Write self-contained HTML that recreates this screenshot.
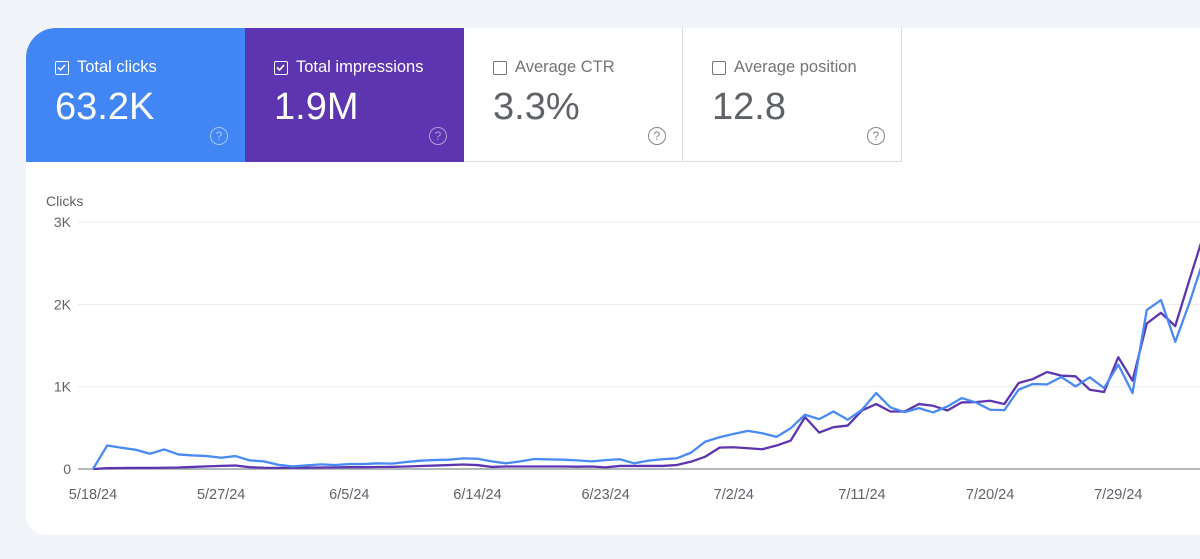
<!DOCTYPE html>
<html><head><meta charset="utf-8">
<style>
body{margin:0;width:1200px;height:559px;background:#f1f4f9;font-family:"Liberation Sans",sans-serif;overflow:hidden;position:relative}
.card{position:absolute;left:26px;top:28px;width:1200px;height:507px;background:#fff;border-radius:30px 0 0 20px;overflow:hidden}
.tile{position:absolute;top:0;height:134px;width:219px;box-sizing:border-box}
.lbl{position:absolute;left:29px;top:30px;font-size:16.5px;display:flex;align-items:center}
.cb{width:14px;height:14px;border:1.5px solid currentColor;border-radius:2px;margin-right:8px;position:relative;box-sizing:border-box}
.val{position:absolute;left:29px;top:58px;font-size:38px}
.q{position:absolute;left:184px;top:99px;width:16px;height:16px;border:1.6px solid currentColor;border-radius:50%;font-size:12px;text-align:center;line-height:16px;box-sizing:content-box}
</style></head><body>
<div class="card">
 <div class="tile" style="left:0;background:#4285f4;color:#fff">
  <div class="lbl"><span class="cb"><svg width="11" height="11" style="position:absolute;left:0;top:0"><path d="M2 5.5l2.5 2.5L9 3" stroke="#fff" stroke-width="1.6" fill="none"/></svg></span>Total clicks</div>
  <div class="val">63.2K</div><div class="q" style="color:#a8c7fa">?</div>
 </div>
 <div class="tile" style="left:219px;background:#5e35b1;color:#fff">
  <div class="lbl"><span class="cb"><svg width="11" height="11" style="position:absolute;left:0;top:0"><path d="M2 5.5l2.5 2.5L9 3" stroke="#fff" stroke-width="1.6" fill="none"/></svg></span>Total impressions</div>
  <div class="val">1.9M</div><div class="q" style="color:#b39ddb">?</div>
 </div>
 <div class="tile" style="left:438px;border-right:1px solid #dadce0;border-bottom:1px solid #dadce0;color:#5f6368">
  <div class="lbl" style="color:#757575"><span class="cb"></span>Average CTR</div>
  <div class="val">3.3%</div><div class="q" style="color:#80868b">?</div>
 </div>
 <div class="tile" style="left:657px;border-right:1px solid #dadce0;border-bottom:1px solid #dadce0;color:#5f6368">
  <div class="lbl" style="color:#757575"><span class="cb"></span>Average position</div>
  <div class="val">12.8</div><div class="q" style="color:#80868b">?</div>
 </div>
</div>
<svg id="chart" width="1200" height="559" style="position:absolute;left:0;top:0"></svg>
<script>
const clicks=[0,286,258,234,185,238,177,165,157,137,157,105,93,52,32,44,56,48,60,60,69,65,85,101,109,113,129,125,93,69,93,121,117,113,105,93,108,118,69,102,118,130,199,333,386,427,463,435,390,496,659,606,699,598,720,923,748,691,740,687,760,862,809,720,715,963,1033,1028,1118,1004,1114,984,1268,923,1931,2053,1545,2020,2550];
const impressions=[0,10,12,14,14,15,18,25,32,38,42,22,15,14,15,16,18,20,22,22,24,26,30,36,42,48,55,48,25,30,30,30,30,30,28,30,20,37,37,37,37,49,89,150,260,264,252,240,285,346,630,443,508,528,711,789,699,699,789,768,711,809,813,829,789,1045,1093,1179,1134,1126,963,935,1358,1073,1768,1898,1736,2300,2850];
const yTicks=[0,1000,2000,3000];
const yTickLabels=["0","1K","2K","3K"];
const xTickIdx=[0,9,18,27,36,45,54,63,72];
const xTickLabels=["5/18/24","5/27/24","6/5/24","6/14/24","6/23/24","7/2/24","7/11/24","7/20/24","7/29/24"];
const svg=document.getElementById('chart');const NS='http://www.w3.org/2000/svg';
const X=i=>93+i*14.24, Y=v=>469-v*0.0823;
function mk(t,a,p){const e=document.createElementNS(NS,t);for(const k in a)e.setAttribute(k,a[k]);(p||svg).appendChild(e);return e;}
const t0=mk('text',{x:46,y:206,'font-size':14,fill:'#5f6368'});t0.textContent='Clicks';


yTicks.forEach((v,k)=>{
 const l=mk('line',{x1:78,x2:1200,y1:Y(v),y2:Y(v),stroke:v===0?'#9aa0a6':'#e8eaed','stroke-width':v===0?1.5:1});
 
 
 const t=mk('text',{x:71,y:Y(v)+5,'font-size':14,fill:'#5f6368','text-anchor':'end'});t.textContent=yTickLabels[k];
 
 
});
xTickIdx.forEach((i,k)=>{
 const t=mk('text',{x:X(i),y:499,'font-size':14.5,fill:'#5f6368','text-anchor':'middle'});t.textContent=xTickLabels[k];
 
 
});
function line(d,c,n){const p=mk('polyline',{points:d.map((v,i)=>X(i)+','+Y(v)).join(' '),fill:'none',stroke:c,'stroke-width':2.3,'stroke-linejoin':'round'});
 
 }
line(impressions,'#5e35b1','impressions-line');
line(clicks,'#4a8af4','clicks-line');
</script>
</body></html>
